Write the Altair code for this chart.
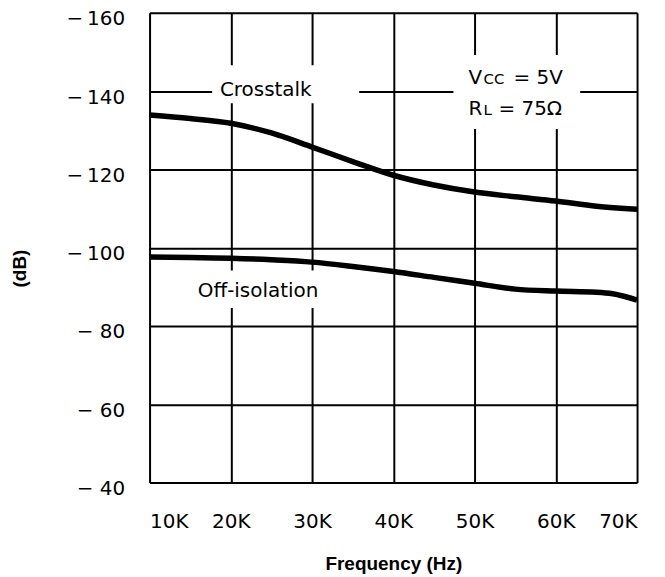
import altair as alt
import pandas as pd

# ---- data ----
freq_cross = [10000, 15000, 20000, 25000, 30000, 35000, 40000, 45000, 50000, 55000, 60000, 65000, 70000]
crosstalk_db = [-133.9, -133.0, -131.8, -129.3, -125.7, -122.0, -118.5, -116.0, -114.2, -113.0, -111.9, -110.6, -109.8]

freq_iso = [10000, 15000, 20000, 25000, 30000, 35000, 40000, 45000, 50000, 55000, 60000, 65000, 67000, 70000]
offiso_db = [-97.6, -97.5, -97.3, -96.9, -96.3, -95.2, -93.9, -92.4, -90.9, -89.4, -88.9, -88.6, -88.2, -86.6]

x_ticks = [10000, 20000, 30000, 40000, 50000, 60000, 70000]
y_ticks = [-160, -140, -120, -100, -80, -60, -40]

# annotation texts (anchor positions in data units)
ann_text = ["Crosstalk", "Off-isolation"]
ann_x = [24300, 23350]
ann_y = [-140.4, -89.0]

# Vcc / RL label pieces (left aligned, alphabetic baseline)
cond_text = ["V", "CC", "= 5V", "R", "L", "= 75Ω"]
cond_x = [49260, 51100, 54790, 49260, 51100, 52940]
cond_y = [-141.8, -141.8, -141.8, -133.8, -133.8, -133.8]
cond_size = [20, 15, 20, 20, 15, 20]

# white label backgrounds
box_x = [17700, 14500, 47400]
box_x2 = [35800, 32200, 63000]
box_y = [-146.6, -94.15, -149.2]
box_y2 = [-136.9, -84.55, -130.3]

FONT = "DejaVu Sans"
TFONT = "Liberation Sans"

curves = pd.DataFrame(
    {"f": freq_cross + freq_iso,
     "db": crosstalk_db + offiso_db,
     "series": ["Crosstalk"] * len(freq_cross) + ["Off-isolation"] * len(freq_iso)}
)
ann = pd.DataFrame({"t": ann_text, "f": ann_x, "db": ann_y})
cond = pd.DataFrame({"t": cond_text, "f": cond_x, "db": cond_y, "s": cond_size})
boxes = pd.DataFrame({"f": box_x, "f2": box_x2, "db": box_y, "db2": box_y2})

xscale = alt.Scale(domain=[10000, 70000], nice=False)
yscale = alt.Scale(domain=[-160, -40], reverse=True, nice=False)

xaxis = alt.Axis(
    values=x_ticks, title="Frequency (Hz)",
    labelExpr="datum.value / 1000 + 'K'",
    grid=True, gridColor="black", gridWidth=2, gridOpacity=1,
    domain=False, ticks=False,
    labelFont=FONT, labelFontSize=20, labelColor="black", labelPadding=29,
    labelBaseline="top",
    titleFont=TFONT, titleFontSize=19, titleFontWeight="bold", titleColor="black",
    titlePadding=23,
)
yaxis = alt.Axis(
    values=y_ticks, title="(dB)",
    labelExpr="abs(datum.value) >= 100 ? '\u2212\u2009' + abs(datum.value) : '\u2212 ' + abs(datum.value)",
    grid=True, gridColor="black", gridWidth=2, gridOpacity=1,
    domain=False, ticks=False,
    labelFont=FONT, labelFontSize=20, labelColor="black", labelPadding=25,
    labelOffset=6,
    titleFont=TFONT, titleFontSize=19, titleFontWeight="bold", titleColor="black",
    titleX=-130, titleY=256, titleAlign="center", titleBaseline="middle", titleAngle=-90,
)

base_x = alt.X("f:Q", scale=xscale, axis=xaxis)
base_y = alt.Y("db:Q", scale=yscale, axis=yaxis)

lines = alt.Chart(curves).mark_line(color="black", strokeWidth=5.5, interpolate="monotone").encode(
    x=base_x, y=base_y, detail="series:N"
)

rects = alt.Chart(boxes).mark_rect(color="white").encode(
    x=alt.X("f:Q", scale=xscale), x2="f2:Q",
    y=alt.Y("db:Q", scale=yscale), y2="db2:Q",
)

ann_marks = alt.Chart(ann).mark_text(font=FONT, fontSize=20, color="black", align="center", baseline="middle").encode(
    x=alt.X("f:Q", scale=xscale), y=alt.Y("db:Q", scale=yscale), text="t:N"
)

cond_marks = alt.Chart(cond).mark_text(font=FONT, color="black", align="left", baseline="alphabetic").encode(
    x=alt.X("f:Q", scale=xscale), y=alt.Y("db:Q", scale=yscale), text="t:N",
    size=alt.Size("s:Q", scale=None, legend=None),
)

chart = alt.layer(lines, rects, ann_marks, cond_marks).properties(
    width=489, height=471,
    autosize=alt.AutoSizeParams(type="none"),
    padding={"left": 142, "top": 4, "right": 20, "bottom": 96},
).configure_view(
    stroke="black", strokeWidth=3.5, fill="white"
).configure(background="white")

chart.save("out.html", embed_options={"renderer": "svg", "actions": False})
